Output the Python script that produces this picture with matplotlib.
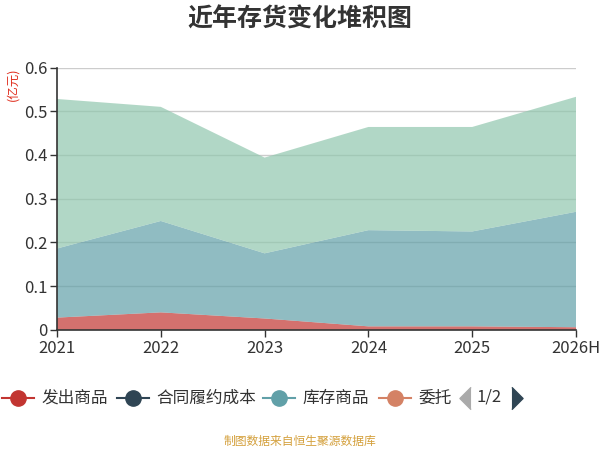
import matplotlib
matplotlib.use("Agg")
import matplotlib.pyplot as plt
from matplotlib.lines import Line2D
from matplotlib.ticker import FuncFormatter

plt.rcParams["font.family"] = ["Noto Sans CJK SC", "DejaVu Sans"]

# 数据（亿元）
years = ["2021", "2022", "2023", "2024", "2025", "2026H"]
series_names = ["发出商品", "合同履约成本", "库存商品", "委托加工物资", "原材料"]
fachu = [0.028, 0.040, 0.026, 0.008, 0.008, 0.006]
hetong = [0, 0, 0, 0, 0, 0]
kucun = [0.158, 0.209, 0.149, 0.220, 0.217, 0.264]
weituo = [0, 0, 0, 0, 0, 0]
yuancailiao = [0.342, 0.261, 0.219, 0.236, 0.239, 0.263]
colors = ["#c23531", "#2f4554", "#61a0a8", "#d48265", "#91c7ae"]
legend_shown = 4

fig = plt.figure(figsize=(6, 4.5), dpi=100, facecolor="white")
ax = fig.add_axes([0.095, 0.267, 0.865, 0.583])

x = list(range(len(years)))
ax.stackplot(x, fachu, hetong, kucun, weituo, yuancailiao,
             colors=colors, alpha=0.7, linewidth=0, zorder=2)

ax.set_xlim(0, len(years) - 1)
ax.set_ylim(0, 0.6)
ax.set_yticks([0, 0.1, 0.2, 0.3, 0.4, 0.5, 0.6])
ax.yaxis.set_major_formatter(FuncFormatter(lambda v, p: "0" if v == 0 else f"{v:.1f}"))
ax.set_xticks(x)
ax.set_xticklabels(years)
ax.grid(True, axis="y", color="#cccccc", linewidth=1, zorder=1)
ax.set_axisbelow(True)

for s in ["top", "right"]:
    ax.spines[s].set_visible(False)
for s in ["left", "bottom"]:
    ax.spines[s].set_color("#333333")
    ax.spines[s].set_linewidth(1.2)
    ax.spines[s].set_zorder(5)
ax.tick_params(axis="both", colors="#333333", labelsize=12, length=5, width=1)
ax.tick_params(axis="x", pad=2)
ax.tick_params(axis="y", pad=2)

fig.text(0.5, 0.957, "近年存货变化堆积图", ha="center", va="center",
         fontsize=18, fontweight="bold", color="#333333")
fig.text(0.022, 0.812, "(亿元)", rotation=90, ha="center", va="center",
         fontsize=9, color="#e03020")

# 图例（第1页）
W, H = 600, 450
leg_y = 1 - 398 / H
item_x = [2, 117, 263, 379]
for i in range(legend_shown):
    x0 = item_x[i]
    fig.add_artist(Line2D([x0 / W, (x0 + 32) / W], [leg_y, leg_y], color=colors[i],
                          linewidth=1.5, transform=fig.transFigure))
    fig.add_artist(Line2D([(x0 + 16) / W], [leg_y], marker="o", markersize=11,
                          color=colors[i], transform=fig.transFigure))
    label = series_names[i] if i < 3 else series_names[i][:2]
    fig.text((x0 + 39) / W, leg_y, label, ha="left", va="center",
             fontsize=12, color="#333333")

tri_left = [(0.5, 1), (-0.5, 0), (0.5, -1)]
tri_right = [(-0.5, 1), (0.5, 0), (-0.5, -1)]
fig.add_artist(Line2D([465 / W], [leg_y], marker=tri_left, markersize=16, linestyle="none",
                      color="#aaaaaa", transform=fig.transFigure))
fig.text(489 / W, leg_y + 0.003, "1/2", ha="center", va="center", fontsize=12, color="#333333")
fig.add_artist(Line2D([517 / W], [leg_y], marker=tri_right, markersize=16, linestyle="none",
                      color="#2f4554", transform=fig.transFigure))

fig.text(0.5, 1 - 441 / H, "制图数据来自恒生聚源数据库", ha="center", va="center",
         fontsize=8.5, color="#d4a03c")

fig.savefig("out.png", dpi=100, facecolor="white")
